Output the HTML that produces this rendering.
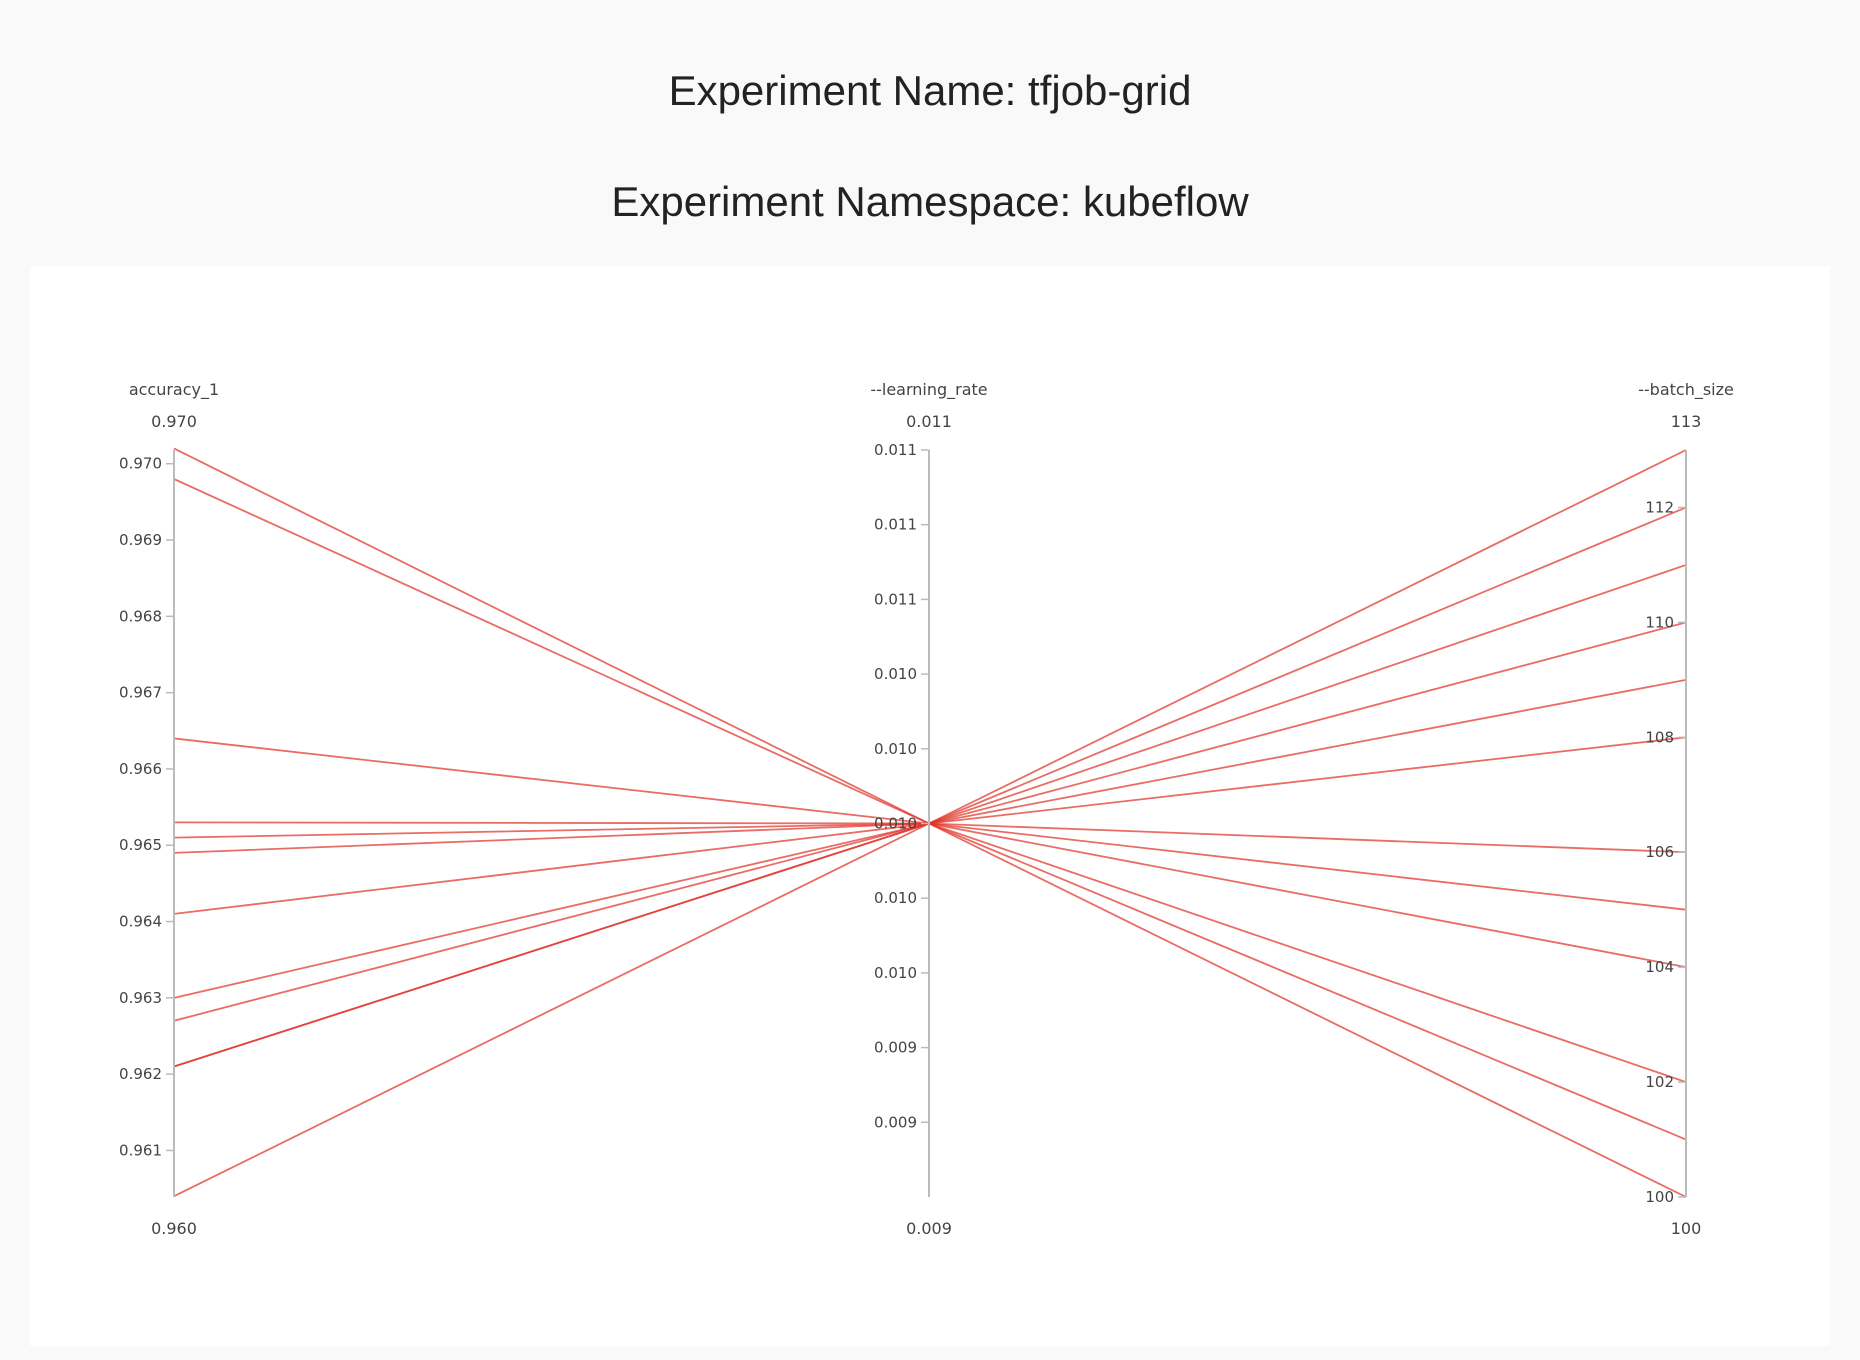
<!DOCTYPE html>
<html><head><meta charset="utf-8"><style>
html,body{margin:0;padding:0;background:#f9f9f9;width:1860px;height:1360px;overflow:hidden;font-family:"Liberation Sans",sans-serif;}
.t{position:absolute;left:0;width:1860px;text-align:center;color:#222;font-size:42px;}
#panel{position:absolute;left:30px;top:266px;width:1800px;height:1080px;background:#fff;}
svg{position:absolute;left:0;top:0;}
</style></head><body>
<div class="t" style="top:67px">Experiment Name: tfjob-grid</div>
<div class="t" style="top:178px">Experiment Namespace: kubeflow</div>
<div id="panel"></div>
<svg id="chart" width="1860" height="1360"></svg>
<script>
const accuracy = [0.9702,0.9698,0.9664,0.9653,0.9651,0.9649,0.9641,0.9630,0.9627,0.9621,0.9621,0.9604];
const learningRate = [0.01,0.01,0.01,0.01,0.01,0.01,0.01,0.01,0.01,0.01,0.01,0.01];
const batchSize = [100,101,102,106,105,108,104,109,110,111,112,113];
const accTicks = [0.961,0.962,0.963,0.964,0.965,0.966,0.967,0.968,0.969,0.970];
const lrTicks = [0.0096,0.0097,0.0098,0.0099,0.0100,0.0101,0.0102,0.0103,0.0104,0.0105];
const lrTickLabels = ["0.009","0.009","0.010","0.010","0.010","0.010","0.010","0.011","0.011","0.011"];
const bsTicks = [100,102,104,106,108,110,112];
const NS="http://www.w3.org/2000/svg";
const svg=document.getElementById('chart');
const TOP=450,BOT=1197;
const FONT='DejaVu Sans, Liberation Sans, sans-serif';
const axes=[
 {x:174,min:0.96039,max:0.97018,title:"accuracy_1",lo:"0.960",hi:"0.970",ticks:accTicks,labels:accTicks.map(v=>v.toFixed(3)),name:'accuracy-axis'},
 {x:929,min:0.0095,max:0.0105,title:"--learning_rate",lo:"0.009",hi:"0.011",ticks:lrTicks,labels:lrTickLabels,name:'learning-rate-axis'},
 {x:1686,min:100,max:113,title:"--batch_size",lo:"100",hi:"113",ticks:bsTicks,labels:bsTicks.map(String),name:'batch-size-axis'}
];
function y(a,v){return BOT-(v-a.min)/(a.max-a.min)*(BOT-TOP);}
function mk(tag,attrs){const e=document.createElementNS(NS,tag);for(const k in attrs)e.setAttribute(k,attrs[k]);return e;}
const g=mk('g',{});
for(let i=0;i<accuracy.length;i++){
  const p=mk('polyline',{points:`${axes[0].x},${y(axes[0],accuracy[i])} ${axes[1].x},${y(axes[1],learningRate[i])} ${axes[2].x},${y(axes[2],batchSize[i])}`,fill:'none',stroke:'#e0332a','stroke-width':1.8,'stroke-opacity':0.72});
  
  
  g.appendChild(p);
}
svg.appendChild(g);
axes.forEach(a=>{
  const ag=mk('g',{});
  
  
  ag.appendChild(mk('line',{x1:a.x,x2:a.x,y1:TOP,y2:BOT,stroke:'#bbb','stroke-width':2}));
  a.ticks.forEach((v,i)=>{
    const yy=y(a,v);
    ag.appendChild(mk('line',{x1:a.x-8,x2:a.x,y1:yy,y2:yy,stroke:'#bbb','stroke-width':1.5}));
    const t=mk('text',{x:a.x-12,y:yy+5,'text-anchor':'end','font-size':15,fill:'#444','font-family':FONT});
    t.textContent=a.labels[i];
    
    
    ag.appendChild(t);
  });
  const tt=mk('text',{x:a.x,y:395,'text-anchor':'middle','font-size':16,fill:'#444','font-family':FONT});
  tt.textContent=a.title;
  
  
  ag.appendChild(tt);
  const hi=mk('text',{x:a.x,y:427,'text-anchor':'middle','font-size':16,fill:'#444','font-family':FONT});
  hi.textContent=a.hi;
  
  
  ag.appendChild(hi);
  const lo=mk('text',{x:a.x,y:1234,'text-anchor':'middle','font-size':16,fill:'#444','font-family':FONT});
  lo.textContent=a.lo;
  
  
  ag.appendChild(lo);
  svg.appendChild(ag);
});
</script>
</body></html>
